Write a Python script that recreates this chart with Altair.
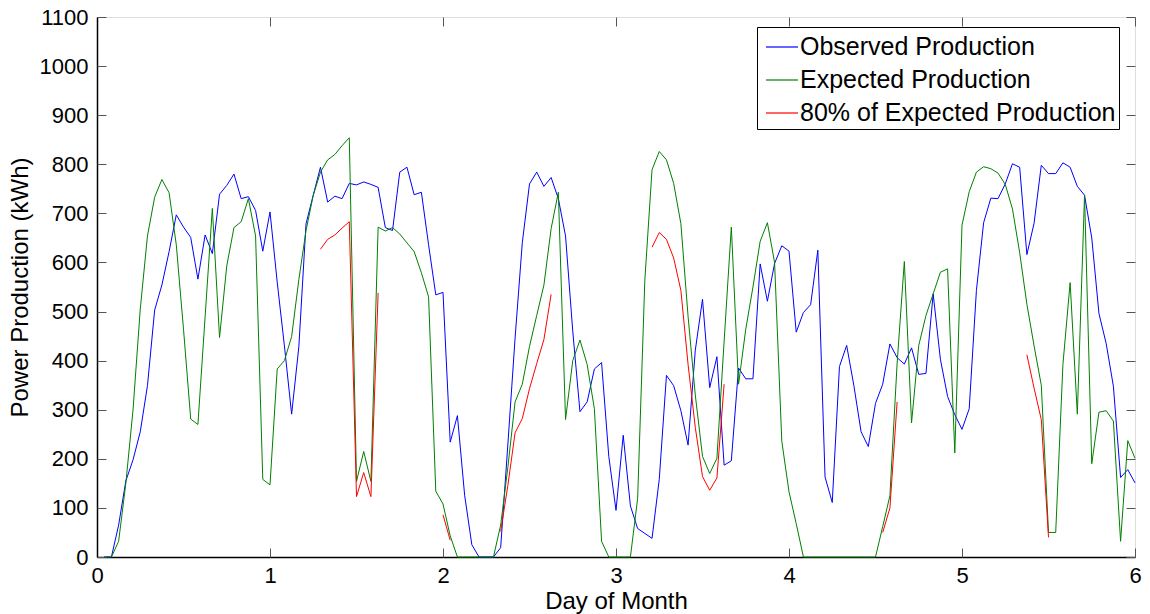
import altair as alt
import pandas as pd

# ---------------- data (hourly) ----------------
hours = list(range(1, 145))

observed = [
    0, 0, 65, 155, 198, 255, 349, 503, 554, 622,
    697, 672, 651, 566, 656, 618, 739, 757, 780, 730,
    734, 706, 623, 703, 560, 430, 291, 428, 679, 737,
    794, 723, 735, 730, 761, 758, 764, 759, 753, 671,
    665, 784, 794, 738, 743, 636, 534, 539, 234, 288,
    126, 25, 0, 0, 0, 19, 230, 446, 640, 760,
    784, 755, 773, 730, 654, 460, 296, 316, 383, 396,
    205, 95, 248, 104, 58, 48, 38, 158, 370, 349,
    298, 228, 421, 525, 345, 408, 187, 196, 385, 363,
    363, 597, 521, 598, 634, 623, 458, 498, 514, 625,
    163, 111, 388, 431, 349, 255, 225, 313, 352, 434,
    406, 393, 426, 372, 374, 536, 403, 327, 290, 260,
    302, 543, 681, 731, 730, 760, 801, 794, 616, 680,
    798, 781, 781, 803, 794, 755, 737, 650, 496, 435,
    348, 162, 178, 151,
]

expected = [
    0, 0, 32, 150, 300, 505, 654, 733, 769, 742,
    636, 464, 281, 270, 490, 710, 447, 593, 671, 683,
    730, 654, 158, 147, 383, 400, 449, 565, 665, 737,
    784, 809, 820, 838, 854, 154, 215, 154, 672, 664,
    671, 658, 640, 622, 579, 530, 134, 108, 43, 0,
    0, 0, 0, 0, 0, 65, 183, 316, 352, 429,
    492, 554, 669, 743, 280, 400, 442, 392, 302, 32,
    0, 0, 0, 0, 119, 564, 789, 826, 809, 761,
    679, 490, 330, 205, 170, 201, 440, 672, 352, 464,
    550, 643, 681, 600, 236, 133, 68, 0, 0, 0,
    0, 0, 0, 0, 0, 0, 0, 0, 62, 125,
    395, 602, 273, 431, 492, 536, 580, 587, 212, 676,
    744, 784, 795, 791, 782, 759, 709, 620, 515, 430,
    350, 50, 50, 392, 559, 291, 737, 190, 295, 298,
    277, 32, 237, 201,
]

# 80% of expected production, drawn only in some stretches
red_starts = [31, 48, 56, 77, 109, 129]
red_a = [627, 647, 656, 670, 683, 123, 172, 123, 538]
red_b = [86, 34]
red_c = [52, 146, 253, 282, 343, 394, 443, 535]
red_d = [631, 661, 647, 609, 543, 392, 264, 164, 136, 161, 352]
red_e = [50, 100, 316]
red_f = [412, 344, 280, 40]
red_segments = [red_a, red_b, red_c, red_d, red_e, red_f]

names = ["Observed Production", "Expected Production", "80% of Expected Production"]
colors = ["#0000ff", "#008000", "#ff0000"]

x_ticks = [0, 1, 2, 3, 4, 5, 6]
y_ticks = list(range(0, 1101, 100))

# ---------------- tables ----------------
df_obs = pd.DataFrame({"day": [h / 24 for h in hours], "kwh": observed,
                       "series": names[0], "seg": 0})
df_exp = pd.DataFrame({"day": [h / 24 for h in hours], "kwh": expected,
                       "series": names[1], "seg": 0})
rows = []
for k, (s, vals) in enumerate(zip(red_starts, red_segments)):
    for i, v in enumerate(vals):
        rows.append({"day": (s + i) / 24, "kwh": v, "series": names[2], "seg": k + 1})
df_red = pd.DataFrame(rows)

# ---------------- chart ----------------
W, H = 1038, 540
FONT = "Liberation Sans"

xscale = alt.Scale(domain=[0, 6], nice=False, zero=False)
yscale = alt.Scale(domain=[0, 1100], nice=False)

color = alt.Color(
    "series:N",
    scale=alt.Scale(domain=names, range=colors),
    legend=alt.Legend(
        orient="none", legendX=660, legendY=10, title=None,
        symbolType="stroke", symbolSize=1024, symbolStrokeWidth=1.2,
        labelFont=FONT, labelFontSize=25, labelColor="black", labelOffset=1,
        labelLimit=500, strokeColor="black", fillColor="white",
        padding=3, rowPadding=3, symbolOffset=5,
    ),
)

tick_only = dict(labels=False, domain=False, ticks=True, tickSize=9,
                 tickColor="#555555", tickWidth=1, grid=False, title=None)

blue = alt.Chart(df_obs).mark_line(strokeWidth=1).encode(
    x=alt.X("day:Q", scale=xscale,
            axis=alt.Axis(values=x_ticks, format="d", title="Day of Month",
                          ticks=False, grid=False, labelFontSize=22, labelPadding=8,
                          labelFlush=False, titleFontSize=24, titlePadding=3,
                          titleFontWeight="normal",
                          domainColor="black", domainWidth=1.5)),
    y=alt.Y("kwh:Q", scale=yscale,
            axis=alt.Axis(values=y_ticks, format="d", title="Power Production (kWh)",
                          ticks=False, grid=False, labelFontSize=22, labelPadding=9,
                          labelFlush=False, titleFontSize=24, titlePadding=7,
                          titleFontWeight="normal",
                          domainColor="black", domainWidth=1.5)),
    color=color,
)

green = alt.Chart(df_exp).mark_line(strokeWidth=1).encode(
    x=alt.X("day:Q", scale=xscale,
            axis=alt.Axis(orient="top", offset=-H, values=x_ticks, **tick_only)),
    y=alt.Y("kwh:Q", scale=yscale,
            axis=alt.Axis(orient="right", offset=-W, values=y_ticks, **tick_only)),
    color=color,
)

red = alt.Chart(df_red).mark_line(strokeWidth=1).encode(
    x=alt.X("day:Q", scale=xscale,
            axis=alt.Axis(orient="bottom", offset=-H, values=x_ticks, **tick_only)),
    y=alt.Y("kwh:Q", scale=yscale,
            axis=alt.Axis(orient="left", offset=-W, values=y_ticks, **tick_only)),
    color=color,
    detail="seg:N",
)

chart = (
    alt.layer(blue, green, red)
    .resolve_axis(x="independent", y="independent")
    .properties(width=W, height=H, autosize="none",
                padding={"left": 97, "top": 17, "right": 15, "bottom": 57})
    .configure_view(stroke="black", strokeWidth=1.5)
    .configure_axis(labelFont=FONT, titleFont=FONT, labelColor="black",
                    titleColor="black", titleFontWeight="normal")
    .configure(background="white")
)

chart.save("out.html", embed_options={"renderer": "svg", "actions": False})
